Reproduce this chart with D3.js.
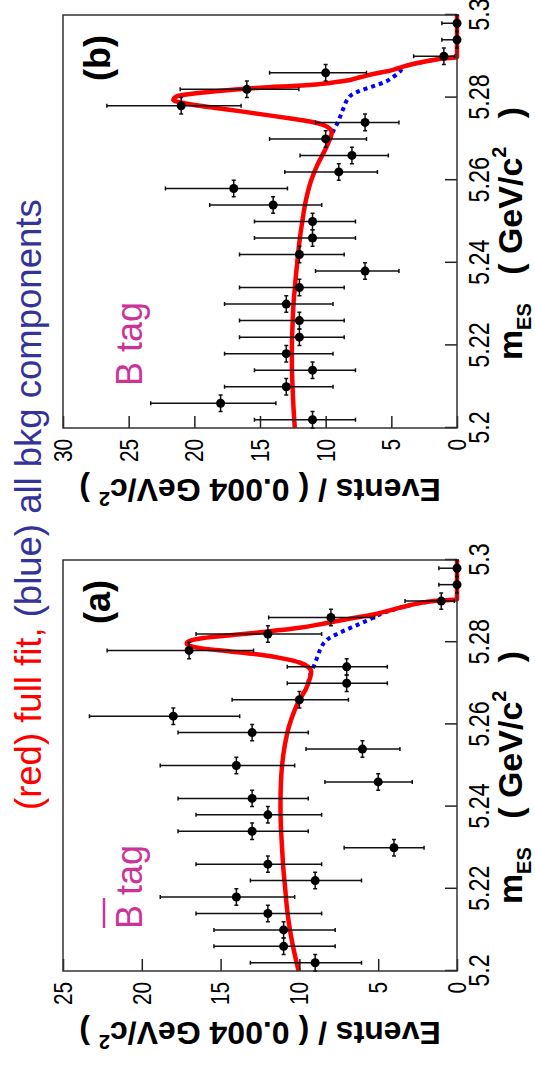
<!DOCTYPE html>
<head>
  <meta charset="utf-8">
  <script src="https://d3js.org/d3.v7.min.js"></script>
  <style>
    body { margin:0; background:#fff; }
    text { font-family: "Liberation Sans", Arial, Helvetica, sans-serif; }
  </style>
</head>

<body>
  <svg width="535" height="1068" id="fig"></svg>
<script>
  // bin centres of the mES histogram (0.004 GeV bins)
  var binCenters = [5.202, 5.206, 5.210, 5.214, 5.218, 5.222, 5.226, 5.230, 5.234, 5.238,
                    5.242, 5.246, 5.250, 5.254, 5.258, 5.262, 5.266, 5.270, 5.274, 5.278,
                    5.282, 5.286, 5.290, 5.294, 5.298];
  var countsA = [9, 11, 11, 12, 14, 9, 12, 4, 13, 12, 13, 5, 14, 6, 13, 18, 10, 7, 7, 17, 12, 8, 1, 0, 0];
  var countsB = [11, 18, 13, 11, 13, 12, 12, 13, 12, 7, 12, 11, 11, 14, 17, 9, 8, 10, 7, 21, 16, 10, 1, 0, 0];

  // asymmetric poisson error bars, indexed by the count
  var poissonLo = [0, 0.83, 1.29, 1.63, 1.91, 2.16, 2.38, 2.58, 2.77, 2.94, 3.11, 3.27, 3.41, 3.56, 3.70, 3.83, 3.96, 4.09, 4.21, 4.33, 4.44, 4.56];
  var poissonHi = [1.15, 2.30, 2.64, 2.92, 3.16, 3.38, 3.58, 3.77, 3.95, 4.11, 4.27, 4.42, 4.56, 4.70, 4.83, 4.96, 5.08, 5.20, 5.32, 5.44, 5.55, 5.66];

  var mesTicks = [5.2, 5.22, 5.24, 5.26, 5.28, 5.3];
  var mesTickLabels = ["5.2", "5.22", "5.24", "5.26", "5.28", "5.3"];
  var evtTicksA = [0, 5, 10, 15, 20, 25];
  var evtTicksB = [0, 5, 10, 15, 20, 25, 30];

  // fit curves: [mES, events]
  var fullFitA = [[5.2000,10.05],[5.2050,10.35],[5.2100,10.6],[5.2150,10.78],[5.2200,10.9],[5.2250,11.02],
    [5.2300,11.1],[5.2350,11.17],[5.2400,11.2],[5.2450,11.18],[5.2500,11.1],[5.2550,10.92],[5.2595,10.66],
    [5.2630,10.35],[5.2660,10.0],[5.2685,9.6],[5.2710,9.35],[5.2728,9.25],[5.2740,9.45],[5.2750,9.95],
    [5.2760,11.0],[5.2770,12.6],[5.2778,14.5],[5.2785,16.2],[5.2791,16.95],[5.2797,17.15],[5.2803,16.95],
    [5.2810,16.1],[5.2818,14.1],[5.2826,12.0],[5.2835,10.0],[5.2845,8.5],[5.2855,7.1],[5.2862,6.1],
    [5.2870,5.0],[5.2880,4.0],[5.2890,3.0],[5.2897,2.1],[5.2901,1.3],[5.2904,0],[5.3000,0]];
  var bkgA = [[5.2700,9.45],[5.2728,9.25],[5.2745,9.05],[5.2765,8.85],[5.2785,8.65],[5.2800,8.4],
    [5.2810,8.1],[5.2820,7.6],[5.2830,7.05],[5.2840,6.45],[5.2850,5.85],[5.2860,5.3],[5.2870,4.75],
    [5.2880,3.95],[5.2890,3.0],[5.2897,2.1],[5.2901,1.3],[5.2904,0]];
  var fullFitB = [[5.2000,12.35],[5.2050,12.45],[5.2100,12.52],[5.2150,12.57],[5.2200,12.57],[5.2250,12.52],
    [5.2300,12.45],[5.2350,12.32],[5.2400,12.17],[5.2450,12.0],[5.2500,11.78],[5.2552,11.5],[5.2600,11.1],
    [5.2633,10.69],[5.2673,10.05],[5.2697,9.72],[5.2714,9.54],[5.2725,9.7],[5.2734,10.2],[5.2742,11.2],
    [5.2748,12.4],[5.2757,14.3],[5.2766,16.3],[5.2775,18.4],[5.2782,20.0],[5.2788,21.0],[5.2794,21.6],
    [5.2800,21.5],[5.2806,21.0],[5.2812,19.5],[5.2818,17.5],[5.2824,15.0],[5.2830,11.5],[5.2835,9.8],
    [5.2840,8.6],[5.2850,7.3],[5.2859,6.1],[5.2866,5.0],[5.2875,4.1],[5.2883,3.1],[5.2890,2.0],
    [5.2895,1.0],[5.2898,0],[5.3000,0]];
  var bkgB = [[5.2697,9.72],[5.2717,9.45],[5.2742,9.05],[5.2774,8.65],[5.2795,8.35],[5.2806,8.05],
    [5.2815,7.5],[5.2822,6.9],[5.2830,6.15],[5.2839,5.4],[5.2850,4.85],[5.2863,4.35],[5.2875,4.05],
    [5.2883,3.1],[5.2890,2.0],[5.2895,1.0],[5.2898,0]];

  var svg = d3.select("#fig");
  svg.append("rect").attr("width", 535).attr("height", 1068).attr("fill", "#fff");

  // the figure is laid out landscape (1068 x 535) and then turned a quarter turn
  var page = svg.append("g").attr("transform", "translate(0,1068) rotate(-90)");

  var title = page.append("text")
    .attr("x", 258).attr("y", 41)
    .style("font-size", "36.5px").style("white-space", "pre");
  title.append("tspan").attr("fill", "#ff0000").text("(red) full fit,");
  title.append("tspan").attr("fill", "#333399").text(" (blue) all bkg components");

  var plotTop = 63, plotBottom = 457;

  function drawPanel(p) {
    var x = d3.scaleLinear().domain([5.2, 5.3]).range([p.left, p.right]),
        y = d3.scaleLinear().domain([0, p.ymax]).range([plotBottom, plotTop]);
    var g = page.append("g");

    var line = d3.line()
      .x(function(d) { return x(d[0]); })
      .y(function(d) { return y(d[1]); })
      .curve(d3.curveMonotoneX);

    g.append("path").datum(p.bkg)
      .attr("d", line).attr("fill", "none")
      .attr("stroke", "#0000ff").attr("stroke-width", 4).attr("stroke-dasharray", "4,4");
    g.append("path").datum(p.fit)
      .attr("d", line).attr("fill", "none")
      .attr("stroke", "#ff0000").attr("stroke-width", 4.5).attr("stroke-linejoin", "round");

    // axes
    var xAxis = g.append("g")
      .attr("transform", "translate(0," + plotBottom + ")")
      .call(d3.axisBottom(x)
        .tickValues(mesTicks)
        .tickFormat(function(d, i) { return mesTickLabels[i]; })
        .tickSize(-12).tickSizeOuter(0).tickPadding(11));
    xAxis.select(".domain").remove();
    xAxis.attr("font-size", 30).attr("font-family", null);
    xAxis.selectAll("line").attr("stroke", "#222").attr("stroke-width", 1.5);
    xAxis.selectAll("text").attr("fill", "#000").attr("transform", "scale(0.78,1)");

    var yAxis = g.append("g")
      .attr("transform", "translate(" + p.left + ",0)")
      .call(d3.axisLeft(y)
        .tickValues(p.ticks)
        .tickSize(-12).tickSizeOuter(0).tickPadding(11));
    yAxis.select(".domain").remove();
    yAxis.attr("font-size", 26).attr("font-family", null);
    yAxis.selectAll("line").attr("stroke", "#222").attr("stroke-width", 1.5);
    yAxis.selectAll("text").attr("fill", "#000").attr("x", -11 / 0.8).attr("transform", "scale(0.8,1)");

    g.append("rect")
      .attr("x", p.left).attr("y", plotTop)
      .attr("width", p.right - p.left).attr("height", plotBottom - plotTop)
      .attr("fill", "none").attr("stroke", "#333").attr("stroke-width", 1.5);

    // data points
    var pts = g.selectAll(".pt")
      .data(p.counts.map(function(c, i) { return {m: binCenters[i], n: c}; }))
      .enter().append("g").attr("class", "pt")
      .attr("stroke", "#111").attr("stroke-width", 1.5);
    pts.append("line")
      .attr("x1", function(d) { return x(d.m); }).attr("x2", function(d) { return x(d.m); })
      .attr("y1", function(d) { return y(d.n - poissonLo[d.n]); })
      .attr("y2", function(d) { return y(d.n + poissonHi[d.n]); });
    pts.append("path")
      .attr("d", function(d) {
        var cx = x(d.m), lo = y(d.n - poissonLo[d.n]), hi = y(d.n + poissonHi[d.n]);
        return "M" + (cx - 2) + "," + lo + "H" + (cx + 2) + "M" + (cx - 2) + "," + hi + "H" + (cx + 2);
      });
    pts.append("line")
      .attr("x1", function(d) { return x(d.m - 0.002); }).attr("x2", function(d) { return x(d.m + 0.002); })
      .attr("y1", function(d) { return y(d.n); }).attr("y2", function(d) { return y(d.n); });
    pts.append("path")
      .attr("d", function(d) {
        var a = x(d.m - 0.002), b = x(d.m + 0.002), cy = y(d.n);
        return "M" + a + "," + (cy - 2) + "V" + (cy + 2) + "M" + b + "," + (cy - 2) + "V" + (cy + 2);
      });
    pts.append("circle")
      .attr("cx", function(d) { return x(d.m); }).attr("cy", function(d) { return y(d.n); })
      .attr("r", 4.5).attr("fill", "#000").attr("stroke", "none");

    // axis titles
    var xt = g.append("text")
      .attr("x", (p.left + p.right) / 2 - 12).attr("y", 522)
      .attr("text-anchor", "middle")
      .style("font-weight", "bold").style("font-size", "34px").style("white-space", "pre");
    xt.append("tspan").text("m");
    xt.append("tspan").attr("dy", 9).style("font-size", "20px").text("ES");
    xt.append("tspan").attr("dy", -9).text("   ( GeV/c");
    xt.append("tspan").attr("dy", -16).style("font-size", "20px").text("2");
    xt.append("tspan").attr("dy", 16).text("   )");

    var yt = g.append("text")
      .attr("transform", "translate(" + (p.left - 51) + "," + ((plotTop + plotBottom) / 2) + ") rotate(-90)")
      .attr("text-anchor", "middle")
      .style("font-weight", "bold").style("font-size", "32px").style("white-space", "pre");
    yt.append("tspan").text("Events / ( 0.004 GeV/c");
    yt.append("tspan").attr("dy", -13).style("font-size", "20px").text("2");
    yt.append("tspan").attr("dy", 13).text(" )");

    g.append("text")
      .attr("x", p.right - 20).attr("y", 110)
      .attr("text-anchor", "end")
      .style("font-weight", "bold").style("font-size", "36px")
      .text(p.label);

    var tagX = p.left + 42;
    g.append("text")
      .attr("x", tagX).attr("y", 142)
      .attr("fill", "#cc3399").style("font-size", "36px")
      .text("B tag");
    if (p.bar) {
      g.append("line")
        .attr("x1", tagX + 1).attr("x2", tagX + 31)
        .attr("y1", 104).attr("y2", 104)
        .attr("stroke", "#cc3399").attr("stroke-width", 2.5);
    }
  }

  drawPanel({left: 97, right: 508, ymax: 25, ticks: evtTicksA, counts: countsA,
             fit: fullFitA, bkg: bkgA, label: "(a)", bar: true});
  drawPanel({left: 640, right: 1053, ymax: 30, ticks: evtTicksB, counts: countsB,
             fit: fullFitB, bkg: bkgB, label: "(b)", bar: false});
</script>
</body>
